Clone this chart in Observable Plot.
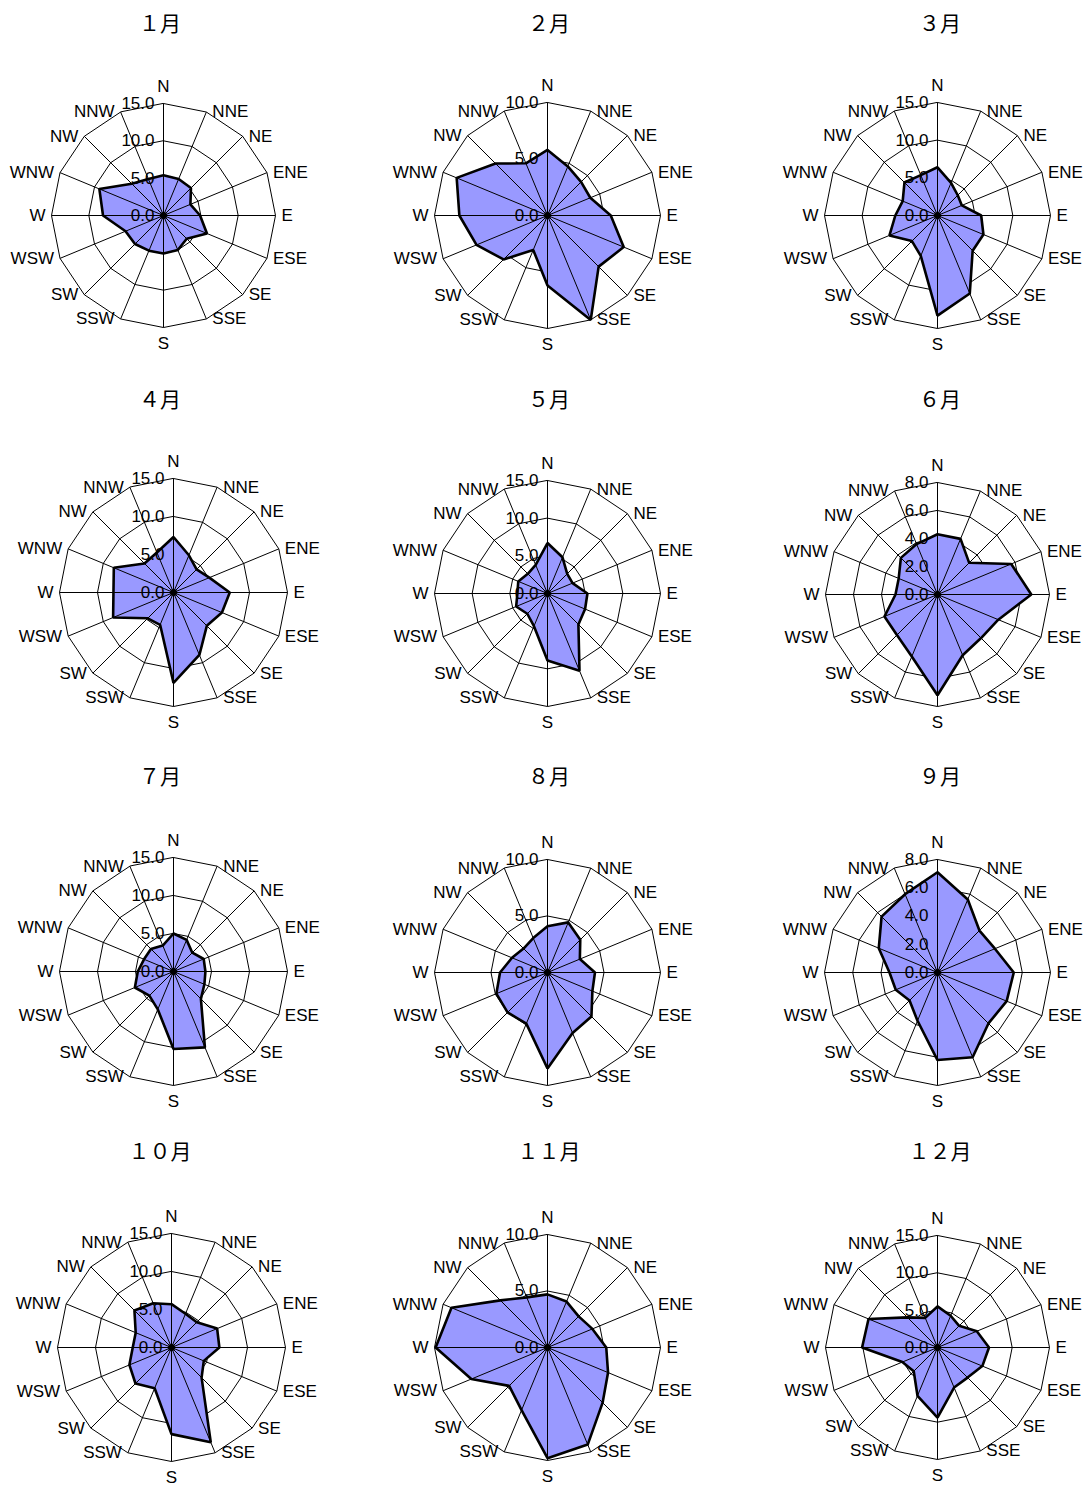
<!DOCTYPE html>
<html><head><meta charset="utf-8">
<script src="https://cdn.jsdelivr.net/npm/d3@7"></script>
<script src="https://cdn.jsdelivr.net/npm/@observablehq/plot@0.6"></script>
<style>
body{margin:0;background:#fff;}
#wrap{position:relative;width:1090px;height:1486px;overflow:hidden;background:#fff;}
.title{position:absolute;width:200px;text-align:center;font-family:"Noto Sans CJK JP",sans-serif;font-size:21px;line-height:26px;color:#000;}
.chart{position:absolute;width:340px;height:300px;}
.chart svg{max-width:none !important;}
</style></head><body><div id="wrap"></div>
<script>
// ---- data ----
const directions = ["N","NNE","NE","ENE","E","ESE","SE","SSE","S","SSW","SW","WSW","W","WNW","NW","NNW"];
const monthNames = ["１月","２月","３月","４月","５月","６月","７月","８月","９月","１０月","１１月","１２月"];
const jan = [5.4, 5.3, 5.2, 3.9, 4.9, 6.3, 4.4, 5.0, 5.1, 5.1, 5.4, 5.5, 8.1, 9.3, 6.0, 5.3];
const feb = [5.8, 4.7, 4.2, 4.1, 5.6, 7.3, 6.4, 10.0, 6.2, 3.3, 5.5, 6.8, 7.8, 8.7, 6.5, 5.0];
const mar = [6.4, 4.7, 3.8, 3.5, 5.8, 6.6, 6.6, 11.2, 13.3, 5.8, 4.8, 6.9, 5.6, 5.0, 6.2, 5.8];
const apr = [7.3, 5.3, 4.3, 5.1, 7.4, 6.9, 6.2, 8.9, 11.9, 4.6, 4.8, 8.6, 7.9, 8.5, 5.4, 5.7];
const may = [6.7, 5.2, 3.7, 3.6, 5.3, 5.4, 5.8, 11.1, 8.9, 4.7, 3.8, 4.5, 4.0, 4.2, 3.7, 4.1];
const jun = [4.3, 4.3, 3.2, 5.7, 6.7, 4.7, 4.4, 4.7, 7.2, 4.8, 4.1, 4.1, 3.0, 3.0, 3.7, 3.9];
const jul = [5.0, 4.5, 3.5, 4.3, 4.2, 4.4, 5.1, 10.8, 10.2, 5.4, 4.5, 5.5, 4.7, 4.2, 4.2, 3.7];
const aug = [4.1, 4.8, 4.1, 3.1, 4.2, 4.3, 5.5, 5.8, 8.5, 4.9, 5.0, 4.9, 4.2, 3.4, 3.0, 3.3];
const sep = [7.1, 5.6, 4.2, 4.4, 5.4, 5.3, 5.1, 6.5, 6.2, 3.7, 2.8, 3.2, 3.4, 4.5, 5.6, 6.0];
const oct = [5.7, 4.8, 4.7, 6.5, 6.3, 4.6, 5.6, 13.5, 11.4, 5.8, 6.7, 6.0, 5.1, 5.1, 6.9, 6.3];
const nov = [4.7, 4.4, 3.9, 4.3, 5.2, 5.8, 6.9, 9.3, 9.8, 6.0, 4.8, 7.3, 9.9, 9.2, 5.9, 4.8];
const dec = [5.5, 4.6, 4.1, 5.7, 6.9, 6.5, 5.7, 5.8, 9.4, 7.0, 4.5, 5.1, 10.1, 10.0, 5.7, 4.3];
const axisMax  = [15, 10, 15, 15, 15, 8, 15, 10, 8, 15, 10, 15];
const axisStep = [5, 5, 5, 5, 5, 2, 5, 5, 2, 5, 5, 5];
const months = [jan, feb, mar, apr, may, jun, jul, aug, sep, oct, nov, dec];

// ---- layout (pixels) ----
const layout = [
  {cx:163, cy:215, R:112}, {cx:547, cy:215, R:113}, {cx:937, cy:215, R:113},
  {cx:173, cy:592, R:114}, {cx:547, cy:593, R:113}, {cx:937, cy:594, R:112},
  {cx:173, cy:971, R:114}, {cx:547, cy:972, R:113}, {cx:937, cy:972, R:113},
  {cx:171, cy:1347, R:114}, {cx:547, cy:1347, R:113}, {cx:937, cy:1347, R:112}
];
const titleX = [160, 549, 940];
const titleY = [22, 398, 775, 1150];

const W = 340, H = 300;
const ang = i => i * Math.PI / 8;
const px = (v, i) => v * Math.sin(ang(i));
const py = (v, i) => v * Math.cos(ang(i));

const wrap = document.getElementById("wrap");

months.forEach((values, m) => {
  const {cx, cy, R} = layout[m];
  const max = axisMax[m], step = axisStep[m];
  const ticks = d3.range(0, max + step / 2, step);
  const ringVals = ticks.filter(t => t > 0);
  const rings = ringVals.flatMap(r => directions.map((d, i) => ({r, i})));
  const pts = values.map((v, i) => ({v, i, dir: directions[i]}));
  const dirs = directions.map((d, i) => ({d, i}));
  const right = dirs.filter(o => o.i > 0 && o.i < 8);
  const left = dirs.filter(o => o.i > 8);
  const top = dirs.filter(o => o.i === 0);
  const bottom = dirs.filter(o => o.i === 8);
  const lx = o => px(max, o.i), ly = o => py(max, o.i);

  const chart = Plot.plot({
    width: W, height: H, margin: 0,
    x: {domain: [-max, max], range: [W / 2 - R, W / 2 + R], axis: null},
    y: {domain: [-max, max], range: [H / 2 + R, H / 2 - R], axis: null},
    style: {fontFamily: "'Liberation Sans', Arial, sans-serif", fontSize: "17px", color: "#000", background: "transparent", overflow: "visible", maxWidth: "none"},
    marks: [
      Plot.line(rings, {x: d => px(d.r, d.i), y: d => py(d.r, d.i), z: "r", curve: "linear-closed", stroke: "#000", strokeWidth: 1}),
      Plot.line(pts, {x: d => px(d.v, d.i), y: d => py(d.v, d.i), curve: "linear-closed", fill: "#9999FF", stroke: "none"}),
      Plot.link(dirs, {x1: () => 0, y1: () => 0, x2: lx, y2: ly, stroke: "#000", strokeWidth: 1}),
      Plot.line(pts, {x: d => px(d.v, d.i), y: d => py(d.v, d.i), curve: "linear-closed", fill: "none", stroke: "#000", strokeWidth: 2.6, strokeLinejoin: "miter"}),
      Plot.dot([0], {x: () => 0, y: () => 0, r: 3.5, fill: "#000", stroke: "none"}),
      Plot.text(ticks, {x: () => 0, y: d => d, text: d => d.toFixed(1), textAnchor: "end", dx: -9, fill: "#000"}),
      Plot.text(right, {x: lx, y: ly, text: "d", textAnchor: "start", dx: 6, fill: "#000"}),
      Plot.text(left, {x: lx, y: ly, text: "d", textAnchor: "end", dx: -6, fill: "#000"}),
      Plot.text(top, {x: lx, y: ly, text: "d", dy: -17, fill: "#000"}),
      Plot.text(bottom, {x: lx, y: ly, text: "d", dy: 16, fill: "#000"})
    ]
  });
  const box = document.createElement("div");
  box.className = "chart";
  box.style.left = (cx - W / 2) + "px";
  box.style.top = (cy - H / 2) + "px";
  box.appendChild(chart);
  wrap.appendChild(box);

  const t = document.createElement("div");
  t.className = "title";
  t.textContent = monthNames[m];
  t.style.left = (titleX[m % 3] - 100) + "px";
  t.style.top = (titleY[Math.floor(m / 3)] - 13) + "px";
  wrap.appendChild(t);
});
</script>
</body></html>
